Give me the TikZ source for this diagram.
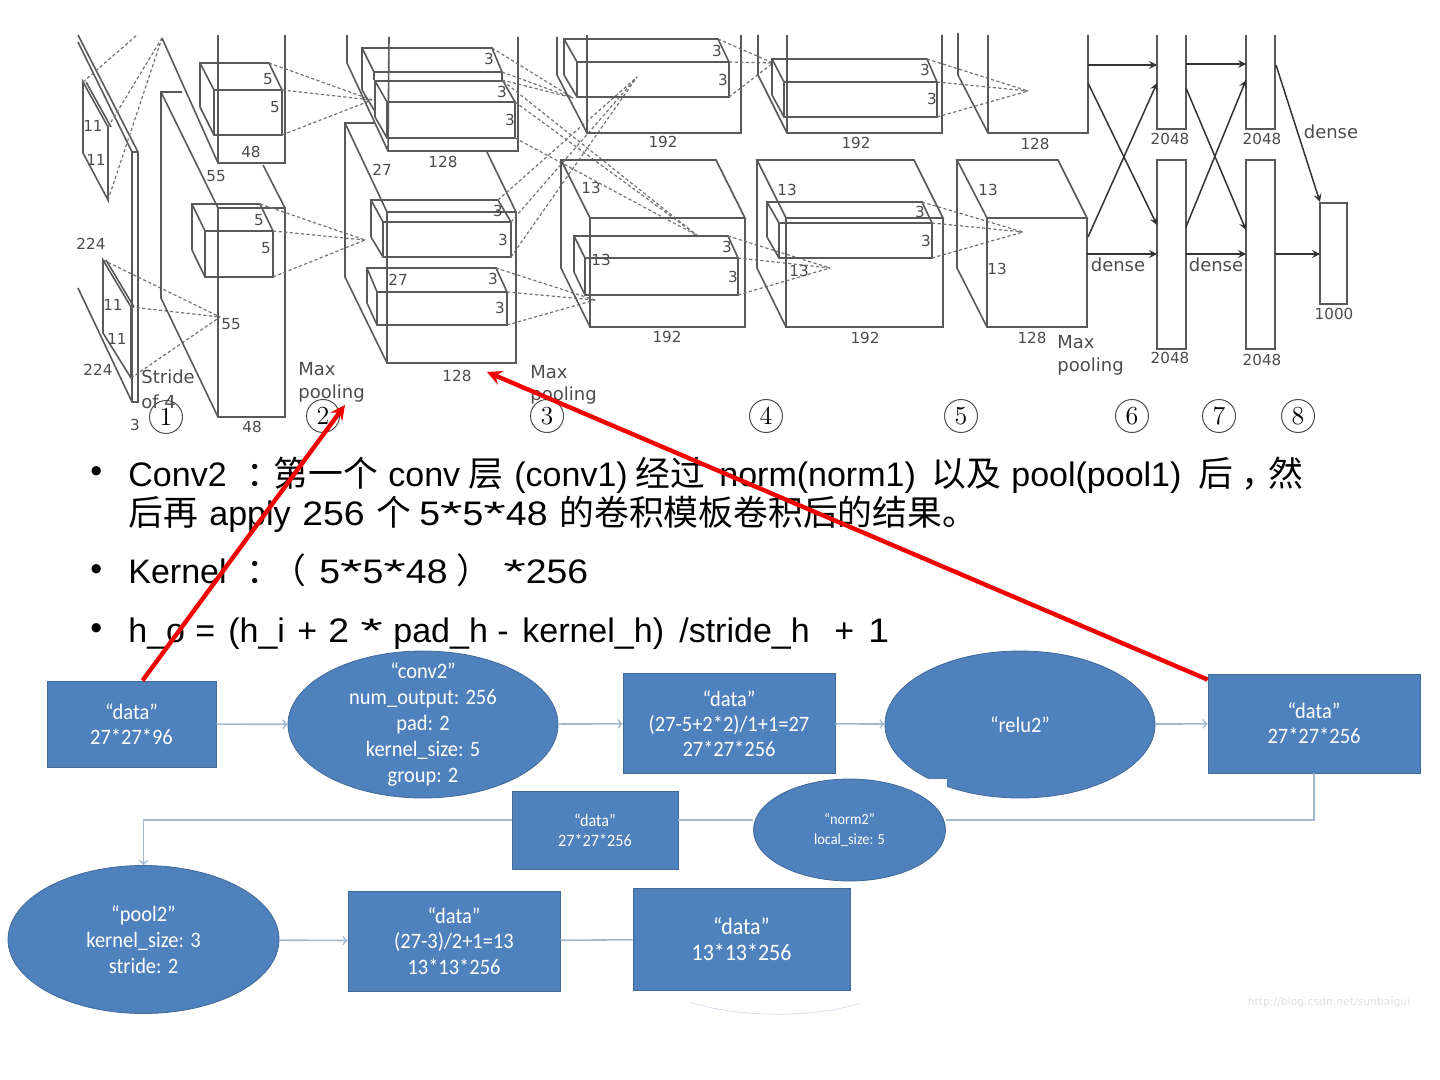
\documentclass[tikz,border=0pt]{standalone}
\usepackage{fontspec}
\usetikzlibrary{shapes.geometric}
\setmainfont{Liberation Sans}
\newfontfamily\cjk[Scale=1.024]{Noto Sans CJK SC}
\newfontfamily\figfont{DejaVu Sans}
\newfontfamily\digfont[FakeStretch=1.1]{Liberation Sans}
\newfontfamily\starfont[FakeStretch=1.7]{Liberation Sans}
\newfontfamily\flowfont[FakeStretch=0.93]{Carlito}
\newcommand\wstar{{\starfont *}}
\newcommand\runat[2]{\rlap{\hspace{#1pt}#2}}
\definecolor{flowblue}{HTML}{4F81BD}
\definecolor{flowedge}{HTML}{41699A}
\definecolor{flowline}{HTML}{A3B8D0}
\begin{document}
\begin{tikzpicture}[
    x=0.5pt, y=-0.5pt,
    ln/.style={draw=black!65, line width=0.8pt},
    dsh/.style={draw=black!55, line width=0.6pt, dash pattern=on 1.6pt off 1.2pt},
    lab/.style={font=\figfont\fontsize{7.6}{9}\selectfont, text=black!70, inner sep=0pt},
    num/.style={circle, draw=black!70, line width=0.5pt, minimum size=16.5pt, inner sep=0pt,
                font=\fontfamily{lmr}\fontsize{13}{13}\selectfont},
    arr/.style={->, >=stealth, line width=0.75pt, draw=black!80},
    databox/.style={rectangle, draw=flowedge, fill=flowblue, text=white, inner sep=0pt,
                    align=center, font=\flowfont\fontsize{11}{12.6}\selectfont},
    layerell/.style={ellipse, draw=flowedge, fill=flowblue, text=white, inner sep=0pt,
                     align=center, font=\flowfont\fontsize{11}{12.9}\selectfont},
    flow/.style={draw=flowline, line width=0.8pt},
    flowarr/.style={flow, ->},
    bul/.style={anchor=base west, inner sep=0pt,
                font=\fontsize{17}{20}\selectfont},
    redarr/.style={->, >=stealth, draw=red!95!black, line width=2.2pt}
]
  \useasboundingbox (0,0) rectangle (1440,1080);

  % Layer 1
  \draw[ln] (78,35) -- (138,152) -- (138,402) -- (132,402) -- (78,288);
  \draw[ln] (78,42) -- (132,152) -- (138,152);
  \draw[ln] (132,152) -- (132,402);
  \draw[ln] (83,153) -- (83,82) -- (108,127) -- (108,200) -- cycle;
  \draw[ln] (86,82) -- (111,127);
  \draw[ln] (103,333) -- (103,260) -- (131,307) -- (131,378) -- cycle;
  \draw[ln] (106,260) -- (134,307);
  \draw[dsh] (83,82) -- (137,35);
  \draw[dsh] (108,127) -- (162,38);
  \draw[dsh] (108,200) -- (162,38);
  \draw[dsh] (103,260) -- (220,317);
  \draw[dsh] (131,307) -- (220,317);
  \draw[dsh] (131,378) -- (220,317);
  \node[lab] (lab11a) at (93,126) {11};
  \node[lab] (lab11b) at (96,160) {11};
  \node[lab] (lab11c) at (113,305) {11};
  \node[lab] (lab11d) at (117,339) {11};
  \node[lab] (lab224a) at (91,244) {224};
  \node[lab] (lab224b) at (98,370) {224};
  \node[lab] (lab3) at (135,425) {3};
  \node[lab, anchor=west, font=\figfont\fontsize{9}{11}\selectfont] (stride) at (141,377) {Stride};
  \node[lab, anchor=west, font=\figfont\fontsize{9}{11}\selectfont] (of4) at (141,402) {of 4};

  % Layer 2
  \draw[ln] (162,38) -- (218,163) -- (285,163) -- (285,35);
  \draw[ln] (218,35) -- (218,163);
  \draw[ln] (182,92) -- (161,92) -- (161,298) -- (218,417) -- (285,417) -- (285,208) -- (218,208) -- (218,417);
  \draw[ln] (161,92) -- (218,208);
  \draw[ln] (263,165) -- (285,208);
  \draw[ln] (200,107) -- (200,63) -- (269,63) -- (282,90) -- (214,90) -- (200,63);
  \draw[ln] (200,107) -- (214,135) -- (282,135) -- (282,90);
  \draw[ln] (214,90) -- (214,135);
  \draw[ln] (192,250) -- (192,204) -- (260,204) -- (273,231) -- (205,231) -- (192,204);
  \draw[ln] (192,250) -- (205,277) -- (273,277) -- (273,231);
  \draw[ln] (205,231) -- (205,277);
  \draw[dsh] (269,63) -- (372,100);
  \draw[dsh] (282,90) -- (372,100);
  \draw[dsh] (282,135) -- (372,100);
  \draw[dsh] (260,204) -- (365,240);
  \draw[dsh] (273,231) -- (365,240);
  \draw[dsh] (273,277) -- (365,240);
  \node[lab] (lab5a) at (268,79) {5};
  \node[lab] (lab5b) at (275,107) {5};
  \node[lab] (lab5c) at (259,220) {5};
  \node[lab] (lab5d) at (266,248) {5};
  \node[lab] (lab48a) at (251,152) {48};
  \node[lab] (lab55a) at (216,176) {55};
  \node[lab] (lab55b) at (231,324) {55};
  \node[lab] (lab48b) at (252,427) {48};
  \node[lab, anchor=west, font=\figfont\fontsize{9}{11}\selectfont] (max2) at (298,369) {Max};
  \node[lab, anchor=west, font=\figfont\fontsize{9}{11}\selectfont] (pool2txt) at (298,394) {pooling};

  % Layer 3
  \draw[ln] (347,35) -- (347,63) -- (388,151) -- (518,151) -- (518,37);
  \draw[ln] (389,37) -- (388,151);
  \draw[ln] (375,123) -- (345,123) -- (345,277) -- (387,363) -- (516,363) -- (516,212) -- (387,212) -- (387,363);
  \draw[ln] (345,123) -- (387,212);
  \draw[ln] (487,152) -- (516,212);
  \draw[ln] (362,90) -- (362,48) -- (492,48) -- (502,72) -- (374,72) -- (362,48);
  \draw[ln] (362,90) -- (374,110);
  \draw[ln] (374,72) -- (374,80);
  \draw[ln] (502,72) -- (502,81);
  \draw[ln] (375,117) -- (375,81) -- (503,81) -- (515,102) -- (387,102) -- (375,81);
  \draw[ln] (375,117) -- (387,138) -- (515,138) -- (515,102);
  \draw[ln] (387,102) -- (387,138);
  \draw[ln] (371,237) -- (371,200) -- (498,200) -- (511,222) -- (383,222) -- (371,200);
  \draw[ln] (371,237) -- (383,257) -- (511,257) -- (511,222);
  \draw[ln] (383,222) -- (383,257);
  \draw[ln] (367,303) -- (367,268) -- (496,268) -- (507,292) -- (377,292) -- (367,268);
  \draw[ln] (367,303) -- (377,325) -- (507,325) -- (507,292);
  \draw[ln] (377,292) -- (377,325);
  \draw[dsh] (492,48) -- (573,98);
  \draw[dsh] (502,72) -- (573,98);
  \draw[dsh] (502,80) -- (573,98);
  \draw[dsh] (503,81) -- (698,236);
  \draw[dsh] (515,102) -- (698,236);
  \draw[dsh] (515,138) -- (698,236);
  \draw[dsh] (498,200) -- (637,77);
  \draw[dsh] (511,222) -- (637,77);
  \draw[dsh] (511,257) -- (637,77);
  \draw[dsh] (496,268) -- (595,300);
  \draw[dsh] (507,292) -- (595,300);
  \draw[dsh] (507,325) -- (595,300);
  \node[lab] (lab3a) at (489,59) {3};
  \node[lab] (lab3b) at (502,92) {3};
  \node[lab] (lab3c) at (510,120) {3};
  \node[lab] (lab3d) at (498,211) {3};
  \node[lab] (lab3e) at (503,240) {3};
  \node[lab] (lab3f) at (493,279) {3};
  \node[lab] (lab3g) at (500,308) {3};
  \node[lab] (lab27a) at (382,170) {27};
  \node[lab] (lab27b) at (398,280) {27};
  \node[lab] (lab128a) at (443,162) {128};
  \node[lab] (lab128b) at (457,376) {128};
  \node[lab, anchor=west, font=\figfont\fontsize{9}{11}\selectfont] (max3) at (530,372) {Max};
  \node[lab, anchor=west, font=\figfont\fontsize{9}{11}\selectfont] (pool3txt) at (530,396) {pooling};

  % Layer 4
  \draw[ln] (557,37) -- (557,75) -- (587,133) -- (741,133) -- (741,35);
  \draw[ln] (587,35) -- (587,133);
  \draw[ln] (564,75) -- (564,39) -- (718,39) -- (729,62) -- (577,62) -- (564,39);
  \draw[ln] (564,75) -- (577,97) -- (729,97) -- (729,62);
  \draw[ln] (577,62) -- (577,97);
  \draw[ln] (590,218) -- (561,160) -- (716,160) -- (745,218) -- (590,218) -- (590,327) -- (745,327) -- (745,218);
  \draw[ln] (561,160) -- (561,268) -- (590,327);
  \draw[ln] (574,272) -- (574,236) -- (728,236) -- (738,258) -- (585,258) -- (574,236);
  \draw[ln] (574,272) -- (585,295) -- (738,295) -- (738,258);
  \draw[ln] (585,258) -- (585,295);
  \draw[dsh] (718,39) -- (773,63);
  \draw[dsh] (729,62) -- (773,63);
  \draw[dsh] (729,97) -- (773,63);
  \draw[dsh] (728,236) -- (830,268);
  \draw[dsh] (738,258) -- (830,268);
  \draw[dsh] (738,295) -- (830,268);
  \node[lab] (lab3h) at (717,51) {3};
  \node[lab] (lab3i) at (723,80) {3};
  \node[lab] (lab3j) at (727,247) {3};
  \node[lab] (lab3k) at (733,277) {3};
  \node[lab] (lab13a) at (591,188) {13};
  \node[lab] (lab13b) at (601,260) {13};
  \node[lab] (lab192a) at (663,142) {192};
  \node[lab] (lab192b) at (667,337) {192};

  % Layer 5
  \draw[ln] (758,35) -- (758,75) -- (787,133) -- (942,133) -- (942,35);
  \draw[ln] (787,35) -- (787,133);
  \draw[ln] (772,95) -- (772,59) -- (927,59) -- (937,82) -- (784,82) -- (772,59);
  \draw[ln] (772,95) -- (784,117) -- (937,117) -- (937,82);
  \draw[ln] (784,82) -- (784,117);
  \draw[ln] (786,218) -- (757,160) -- (914,160) -- (943,218) -- (786,218) -- (786,327) -- (943,327) -- (943,218);
  \draw[ln] (757,160) -- (757,268) -- (786,327);
  \draw[ln] (767,237) -- (767,202) -- (922,202) -- (932,223) -- (779,223) -- (767,202);
  \draw[ln] (767,237) -- (779,258) -- (932,258) -- (932,223);
  \draw[ln] (779,223) -- (779,258);
  \draw[dsh] (927,59) -- (1028,91);
  \draw[dsh] (937,82) -- (1028,91);
  \draw[dsh] (937,117) -- (1028,91);
  \draw[dsh] (922,202) -- (1023,232);
  \draw[dsh] (932,223) -- (1023,232);
  \draw[dsh] (932,258) -- (1023,232);
  \node[lab] (lab3l) at (925,70) {3};
  \node[lab] (lab3m) at (932,99) {3};
  \node[lab] (lab3n) at (920,212) {3};
  \node[lab] (lab3o) at (926,241) {3};
  \node[lab] (lab13c) at (787,190) {13};
  \node[lab] (lab13d) at (799,271) {13};
  \node[lab] (lab192c) at (856,143) {192};
  \node[lab] (lab192d) at (865,338) {192};

  % Layer 6
  \draw[ln] (958,33) -- (958,75) -- (988,133) -- (1088,133) -- (1088,35);
  \draw[ln] (988,35) -- (988,133);
  \draw[ln] (987,218) -- (957,160) -- (1058,160) -- (1087,218) -- (987,218) -- (987,327) -- (1087,327) -- (1087,218);
  \draw[ln] (957,160) -- (957,268) -- (987,327);
  \node[lab] (lab13e) at (988,190) {13};
  \node[lab] (lab13f) at (997,269) {13};
  \node[lab] (lab128c) at (1035,144) {128};
  \node[lab] (lab128d) at (1032,338) {128};
  \node[lab, anchor=west, font=\figfont\fontsize{9}{11}\selectfont] (max6) at (1057,342) {Max};
  \node[lab, anchor=west, font=\figfont\fontsize{9}{11}\selectfont] (pool6txt) at (1057,367) {pooling};

  % Dense layers
  \draw[ln] (1157,35) -- (1157,129) -- (1186,129) -- (1186,35);
  \draw[ln] (1157,160) rectangle (1186,349);
  \draw[ln] (1246,35) -- (1246,129) -- (1275,129) -- (1275,35);
  \draw[ln] (1246,160) rectangle (1275,349);
  \draw[ln] (1320,203) rectangle (1347,304);
  \draw[arr] (1088,65) -- (1157,65);
  \draw[arr] (1186,64) -- (1246,64);
  \draw[arr] (1088,83) -- (1157,225);
  \draw[arr] (1088,237) -- (1157,83);
  \draw[arr] (1087,254) -- (1157,254);
  \draw[arr] (1186,88) -- (1246,230);
  \draw[arr] (1186,227) -- (1246,80);
  \draw[arr] (1186,254) -- (1246,254);
  \draw[arr] (1275,254) -- (1320,254);
  \draw[arr] (1276,65) -- (1320,202);
  \node[lab] (lab2048a) at (1170,139) {2048};
  \node[lab] (lab2048b) at (1170,358) {2048};
  \node[lab] (lab2048c) at (1262,139) {2048};
  \node[lab] (lab2048d) at (1262,360) {2048};
  \node[lab] (lab1000) at (1334,314) {1000};
  \node[lab, font=\figfont\fontsize{9}{11}\selectfont] (dense1) at (1118,265) {dense};
  \node[lab, font=\figfont\fontsize{9}{11}\selectfont] (dense2) at (1216,265) {dense};
  \node[lab, font=\figfont\fontsize{9}{11}\selectfont] (dense3) at (1331,132) {dense};

  % Layer numbers
  \node[num] (num1) at (166,417) {1};
  \node[num] (num2) at (323,416) {2};
  \node[num] (num3) at (547,416) {3};
  \node[num] (num4) at (766,416) {4};
  \node[num] (num5) at (961,416) {5};
  \node[num] (num6) at (1132,416) {6};
  \node[num] (num7) at (1219,416) {7};
  \node[num] (num8) at (1298,416) {8};

  % Bullets
  \node[bul] (bul1) at (90,482) {•};
  \node[bul] (bul2) at (90,580) {•};
  \node[bul] (bul3) at (90,639) {•};
  \node[bul] (line1) at (127,487) {\runat{0}{Conv2}\runat{59}{\cjk ：}\runat{72.5}{\cjk 第一个}\runat{130}{conv}\runat{170}{\cjk 层}\runat{193}{(conv1)}\runat{253.5}{\cjk 经过}\runat{295.5}{norm(norm1)}\runat{401.5}{\cjk 以及}\runat{441.5}{pool(pool1)}\runat{535}{\cjk 后}\runat{556.5}{\cjk ，}\runat{570}{\cjk 然}};
  \node[bul] (line2) at (127,525) {\runat{0}{\cjk 后再}\runat{40.5}{apply}\runat{87}{\digfont 256}\runat{124}{\cjk 个}\runat{145.5}{\digfont 5\wstar5\wstar48}\runat{215.5}{\cjk 的卷积模板卷积后的结果。}};
  \node[bul] (line3) at (127,583) {\runat{0}{Kernel}\runat{59}{\cjk ：}\runat{71.5}{\cjk （}\runat{95.5}{\digfont 5\wstar5\wstar48}\runat{164}{\cjk ）}\runat{187.5}{\digfont\wstar256}};
  \node[bul] (line4) at (127,642) {\runat{0}{h\_o}\runat{33.5}{=}\runat{50}{(h\_i}\runat{84.5}{+}\runat{100}{\digfont 2}\runat{116}{\wstar}\runat{132.5}{pad\_h}\runat{184.5}{-}\runat{197}{kernel\_h)}\runat{275.5}{/stride\_h}\runat{353}{+}\runat{370}{\digfont 1}};

  % First row
  \node[databox, minimum width=84.5pt, minimum height=43pt] (data1) at (131.5,724) {“data”\\27*27*96};
  \node[layerell, minimum width=135pt, minimum height=73.5pt] (conv2) at (423,724.5) {};
  \node[layerell, draw=none, fill=none, minimum width=0pt, minimum height=0pt, shape=rectangle] (conv2txt) at (conv2)
       {“conv2”\\num\_output: 256\\pad: 2\\kernel\_size: 5\\group: 2};
  \node[databox, minimum width=106pt, minimum height=50pt] (data2) at (729,723.5) {“data”\\(27-5+2*2)/1+1=27\\27*27*256};
  \node[layerell, minimum width=135pt, minimum height=73.5pt] (relu2) at (1020,724.5) {“relu2”};
  \node[databox, minimum width=106pt, minimum height=49.5pt] (data3) at (1314,723.5) {“data”\\27*27*256};
  \draw[flowarr] (data1) -- (conv2);
  \draw[flowarr] (conv2) -- (data2);
  \draw[flowarr] (data2) -- (relu2);
  \draw[flowarr] (relu2) -- (data3);

  % Second row
  \fill[white] (752,779) rectangle (947,882);
  \node[layerell, minimum width=96pt, minimum height=51pt, font=\flowfont\fontsize{7.7}{9.6}\selectfont]
       (norm2) at (849.5,830) {“norm2”\\local\_size: 5};
  \node[databox, minimum width=83pt, minimum height=39pt, font=\flowfont\fontsize{8.7}{10}\selectfont]
       (data4) at (595,830) {“data”\\27*27*256};

  % Third row
  \node[layerell, minimum width=135.5pt, minimum height=74pt] (pool2) at (143.5,939.5) {“pool2”\\kernel\_size: 3\\stride: 2};
  \node[databox, minimum width=106pt, minimum height=50pt] (data5) at (454,941) {“data”\\(27-3)/2+1=13\\13*13*256};
  \node[databox, minimum width=108.5pt, minimum height=51pt, font=\flowfont\fontsize{11.8}{13}\selectfont] (data6) at (741.5,939) {“data”\\13*13*256};
  \coordinate (turn) at (1314,820);
  \draw[flow] (data3.south) -- (turn) -- (turn -| norm2.east);
  \draw[flow] (turn -| norm2.west) -- (turn -| data4.east);
  \draw[flowarr] (turn -| data4.west) -- (turn -| pool2.north) -- (pool2.north);
  \draw[flowarr] (pool2) -- (data5);
  \draw[flow] (data5) -- (data6);
  \draw[draw=flowline!45, line width=0.4pt] (690,1002) .. controls (730,1016) and (810,1020) .. (860,1003);
  \node[font=\figfont\fontsize{5.4}{6}\selectfont, text=black!12, inner sep=0pt] (source) at (1329,1003) {http://blog.csdn.net/sunbaigui};

  % Red arrows
  \coordinate (tip2) at (345,405);
  \coordinate (tip128) at (487,372);
  \draw[redarr] ([xshift=5.5pt]data1.north) -- (tip2);
  \draw[redarr] ([yshift=-3pt]data3.north west) -- (tip128);
\end{tikzpicture}
\end{document}
